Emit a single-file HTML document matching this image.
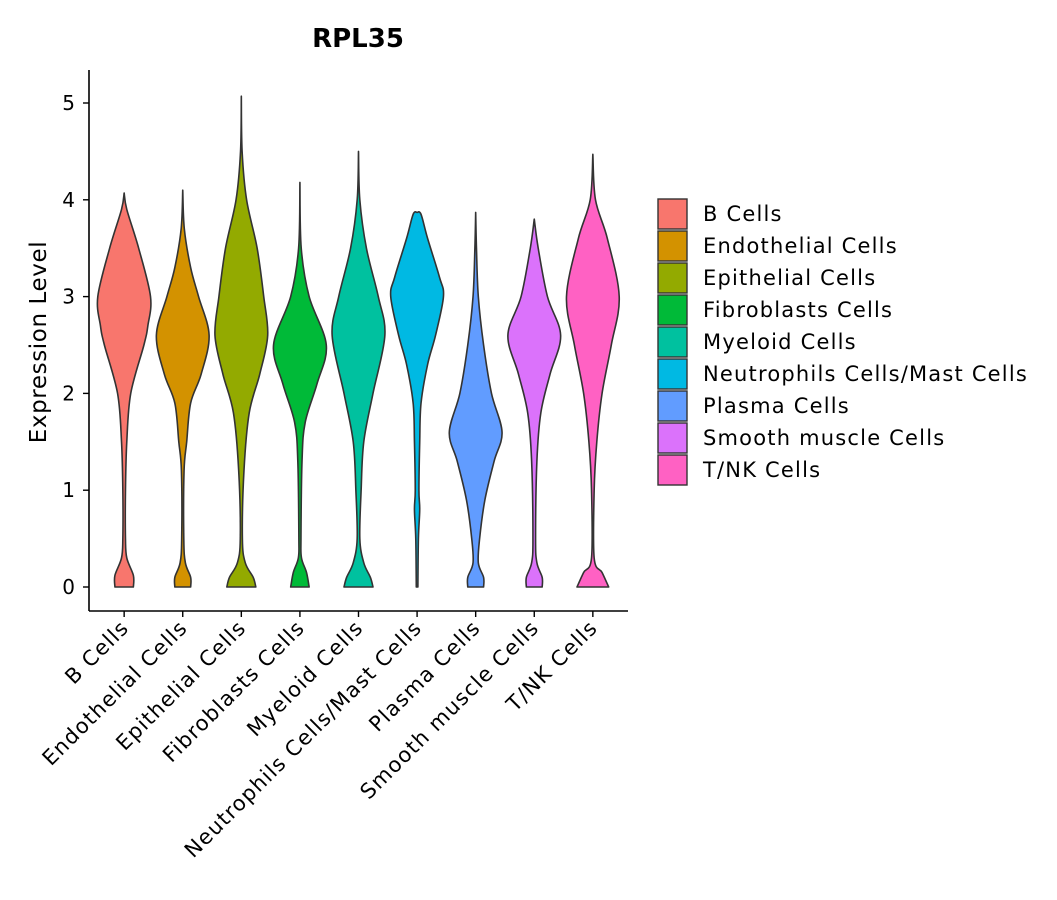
<!DOCTYPE html>
<html><head><meta charset="utf-8">
<style>
body{margin:0;background:#fff;}
svg{display:block;font-family:"DejaVu Sans","Liberation Sans",sans-serif;}
</style></head>
<body>
<svg id="chart" width="1057" height="900" viewBox="0 0 1057 900" xmlns="http://www.w3.org/2000/svg">
<text x="358" y="47" text-anchor="middle" font-size="26" font-weight="bold">RPL35</text>
<text transform="translate(46,342) rotate(-90)" text-anchor="middle" font-size="23" letter-spacing="0.6">Expression Level</text>
<g id="plot"></g>
<g id="legend"></g>
</svg>
<script>
const categories=["B Cells","Endothelial Cells","Epithelial Cells","Fibroblasts Cells","Myeloid Cells","Neutrophils Cells/Mast Cells","Plasma Cells","Smooth muscle Cells","T/NK Cells"];
const colors=["#F8766D","#D39200","#93AA00","#00BA38","#00C19F","#00B9E3","#619CFF","#DB72FB","#FF61C3"];
const yTicks=[0,1,2,3,4,5];
// density profiles: [expression level, relative half-width]
const vB=[[0,0.35],[0.12,0.35],[0.3,0.1],[0.5,0.05],[1,0.05],[1.5,0.1],[2,0.25],[2.5,0.75],[2.7,0.9],[3,1],[3.5,0.55],[3.9,0.1],[4.07,0]];
const vEndo=[[0,0.3],[0.1,0.3],[0.25,0.1],[0.5,0.04],[1.2,0.05],[1.5,0.15],[1.9,0.3],[2.2,0.7],[2.6,1],[3,0.6],[3.3,0.3],[3.7,0.06],[4.1,0]];
const vEpi=[[0,0.55],[0.1,0.45],[0.25,0.15],[0.5,0.04],[1.2,0.1],[1.8,0.3],[2.2,0.7],[2.6,1],[3,0.85],[3.5,0.6],[4,0.2],[4.5,0.03],[5.07,0]];
const vFib=[[0,0.35],[0.15,0.25],[0.3,0.06],[0.5,0.04],[1.3,0.08],[1.7,0.2],[2.1,0.65],[2.5,1],[3,0.35],[3.5,0.05],[4.18,0]];
const vMye=[[0,0.55],[0.1,0.45],[0.25,0.2],[0.5,0.05],[1,0.1],[1.5,0.2],[2,0.55],[2.6,1],[3,0.75],[3.5,0.3],[4,0.05],[4.5,0]];
const vNeu=[[0,0.03],[0.5,0.05],[0.8,0.1],[1,0.07],[1.5,0.1],[1.9,0.15],[2.3,0.4],[2.6,0.7],[3,1],[3.2,0.85],[3.6,0.4],[3.85,0.15],[3.87,0]];
const vPla=[[0,0.3],[0.1,0.3],[0.25,0.1],[0.5,0.15],[0.9,0.35],[1.3,0.7],[1.6,1],[2,0.6],[2.5,0.3],[3,0.1],[3.5,0.03],[3.87,0]];
const vSmo=[[0,0.3],[0.1,0.3],[0.25,0.1],[0.5,0.05],[1.3,0.1],[1.8,0.25],[2.2,0.6],[2.6,1],[3,0.5],[3.5,0.15],[3.8,0]];
const vTNK=[[0,0.6],[0.15,0.35],[0.3,0.05],[1,0.05],[1.5,0.15],[2,0.35],[2.5,0.7],[3,1],[3.6,0.55],[4,0.1],[4.47,0]];
const profiles=[vB,vEndo,vEpi,vFib,vMye,vNeu,vPla,vSmo,vTNK];

const NS="http://www.w3.org/2000/svg";
const X0=89,X1=628,Y0=611,YT=70;
const step=(X1-X0)/(categories.length-1+1.2);
const xPos=i=>X0+(0.6+i)*step;
const yPos=v=>587-v*96.8;
const maxHW=step*0.45;
const plot=document.getElementById('plot');
function mk(tag,attrs,parent){const e=document.createElementNS(NS,tag);for(const k in attrs)e.setAttribute(k,attrs[k]);(parent||plot).appendChild(e);return e;}
function catmull(pts){let d="M"+pts[0][0]+","+pts[0][1];for(let i=0;i<pts.length-1;i++){const p0=pts[Math.max(0,i-1)],p1=pts[i],p2=pts[i+1],p3=pts[Math.min(pts.length-1,i+2)];const c1=[p1[0]+(p2[0]-p0[0])/6,p1[1]+(p2[1]-p0[1])/6];const c2=[p2[0]-(p3[0]-p1[0])/6,p2[1]-(p3[1]-p1[1])/6];d+=` C${c1[0]},${c1[1]} ${c2[0]},${c2[1]} ${p2[0]},${p2[1]}`;}return d;}
profiles.forEach((prof,i)=>{
  const cx=xPos(i);
  const right=prof.map(p=>[cx+p[1]*maxHW,yPos(p[0])]);
  const left=prof.slice().reverse().map(p=>[cx-p[1]*maxHW,yPos(p[0])]);
  let d=catmull(right);
  d+=" L"+left[0][0]+","+left[0][1]+" "+catmull(left).slice(1).replace(/^[^C]*/,"");
  d+=" Z";
  const v=mk('path',{d:d,fill:colors[i],stroke:'#333',"stroke-width":1.6,"stroke-linejoin":"round"});
  
  
});
const ya=mk('line',{x1:X0,y1:YT,x2:X0,y2:Y0,stroke:'#000',"stroke-width":1.6});


const xa=mk('line',{x1:X0,y1:Y0,x2:X1,y2:Y0,stroke:'#000',"stroke-width":1.6});


yTicks.forEach(t=>{
  const y=yPos(t);
  const tk=mk('line',{x1:X0-6,y1:y,x2:X0,y2:y,stroke:'#000',"stroke-width":1.4});
  
  
  const tx=mk('text',{x:X0-14,y:y+7,"text-anchor":"end","font-size":20});
  tx.textContent=t;
  
  
});
categories.forEach((c,i)=>{
  const x=xPos(i);
  const tk=mk('line',{x1:x,y1:Y0,x2:x,y2:Y0+6,stroke:'#000',"stroke-width":1.4});
  
  
  const tx=mk('text',{transform:`translate(${x+6},${Y0+18}) rotate(-45)`,"text-anchor":"end","font-size":21,"letter-spacing":1.2});
  tx.textContent=c;
  
  
});
const lg=document.getElementById('legend');


categories.forEach((c,i)=>{
  const y=199+i*32;
  const r=mk('rect',{x:658,y:y,width:29,height:30,fill:colors[i],stroke:'#333',"stroke-width":1.4},lg);
  
  
  const t=mk('text',{x:703,y:y+22,"font-size":21,"letter-spacing":1.2},lg);
  t.textContent=c;
  
  
});
</script>
</body></html>
